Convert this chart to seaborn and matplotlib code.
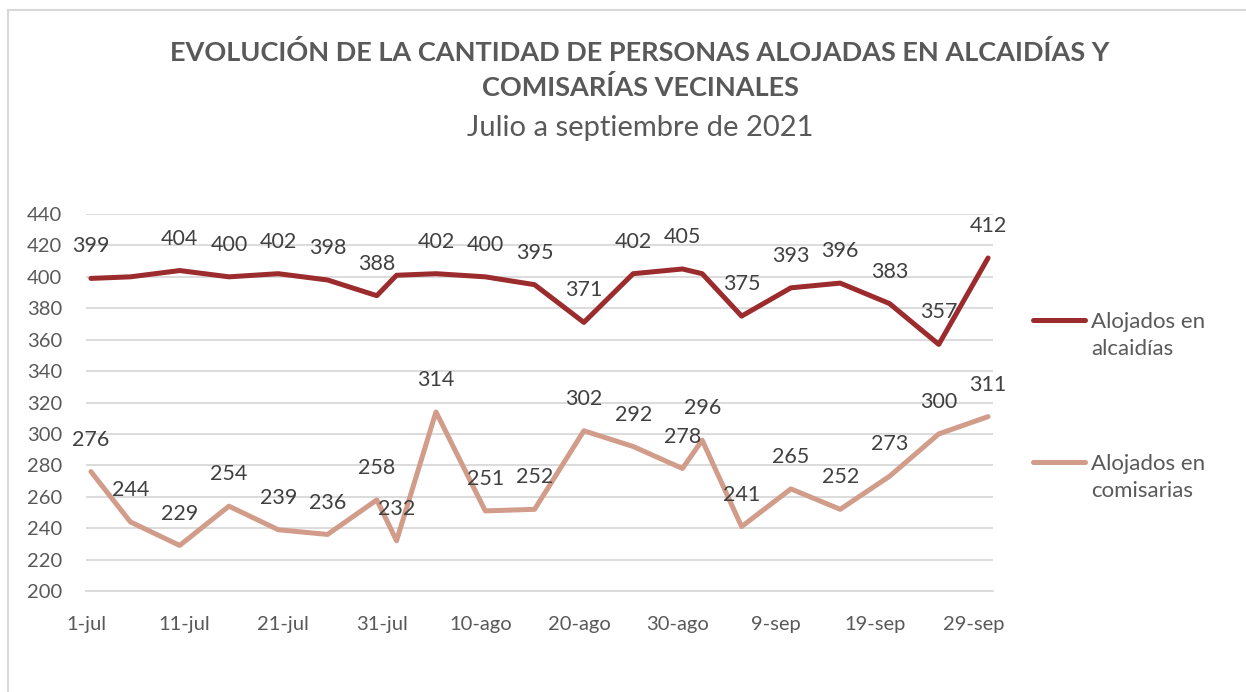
import pandas as pd
import seaborn as sns
import matplotlib.pyplot as plt
from matplotlib.patches import Rectangle

# Datos
fechas = ["2021-07-01", "2021-07-05", "2021-07-10", "2021-07-15", "2021-07-20",
          "2021-07-25", "2021-07-30", "2021-08-01", "2021-08-05", "2021-08-10",
          "2021-08-15", "2021-08-20", "2021-08-25", "2021-08-30", "2021-09-01",
          "2021-09-05", "2021-09-10", "2021-09-15", "2021-09-20", "2021-09-25",
          "2021-09-30"]
alcaidias = [399, 400, 404, 400, 402, 398, 388, 401, 402, 400, 395,
             371, 402, 405, 402, 375, 393, 396, 383, 357, 412]
comisarias = [276, 244, 229, 254, 239, 236, 258, 232, 314, 251, 252,
              302, 292, 278, 296, 241, 265, 252, 273, 300, 311]
# en el original estos puntos de alcaidías no tienen etiqueta
sin_etiqueta = ["2021-07-05", "2021-08-01", "2021-09-01"]

series = ["Alojados en\nalcaidías", "Alojados en\ncomisarias"]
colores = ["#9B2B2C", "#D19C89"]

tick_fechas = ["2021-07-01", "2021-07-11", "2021-07-21", "2021-07-31", "2021-08-10",
               "2021-08-20", "2021-08-30", "2021-09-09", "2021-09-19", "2021-09-29"]
tick_labels = ["1-jul", "11-jul", "21-jul", "31-jul", "10-ago",
               "20-ago", "30-ago", "9-sep", "19-sep", "29-sep"]

titulo = "EVOLUCIÓN DE LA CANTIDAD DE PERSONAS ALOJADAS EN ALCAIDÍAS Y\nCOMISARÍAS VECINALES"
subtitulo = "Julio a septiembre de 2021"

# Tabla larga para seaborn (puntos en el centro de cada día, como en Excel)
df = pd.DataFrame({
    "fecha": pd.to_datetime(fechas * 2) + pd.Timedelta(hours=12),
    "valor": alcaidias + comisarias,
    "serie": [series[0]] * len(fechas) + [series[1]] * len(fechas),
})

sns.set_style("white")
plt.rcParams["font.family"] = ["Lato", "DejaVu Sans"]

gris = "#595959"
grid = "#D9D9D9"

fig = plt.figure(figsize=(12.46, 6.92), dpi=100)
ax = fig.add_axes([86 / 1246, 1 - 591 / 692, (993 - 86) / 1246, (591 - 214) / 692])

sns.lineplot(data=df, x="fecha", y="valor", hue="serie", palette=colores,
             linewidth=3.6, ax=ax, solid_capstyle="round", solid_joinstyle="round")
ax.get_legend().remove()

# Etiquetas de datos
for _, row in df.iterrows():
    fecha_txt = row["fecha"].strftime("%Y-%m-%d")
    if row["serie"] == series[0] and fecha_txt in sin_etiqueta:
        continue
    ax.annotate(str(row["valor"]), (row["fecha"], row["valor"]), xytext=(0, 23),
                textcoords="offset points", ha="center", va="center",
                fontsize=15.5, color="#404040")

# Ejes
ax.set_ylim(200, 440)
ax.set_yticks(range(200, 441, 20))
ax.set_xlim(pd.Timestamp("2021-07-01"), pd.Timestamp("2021-10-01"))
ax.set_xticks(pd.to_datetime(tick_fechas))
ax.set_xticklabels(tick_labels)
ax.set_xlabel("")
ax.set_ylabel("")
ax.grid(axis="y", color=grid, linewidth=1.3)
ax.set_axisbelow(True)
for lado in ["top", "right", "left"]:
    ax.spines[lado].set_visible(False)
ax.spines["bottom"].set_color(grid)
ax.spines["bottom"].set_linewidth(1.3)
ax.tick_params(axis="x", length=6, width=1.3, color=grid, labelsize=14.5,
               labelcolor=gris, pad=12, direction="out")
ax.tick_params(axis="y", length=0, labelsize=14.5, labelcolor=gris, pad=17)

# Leyendas separadas a la derecha
lineas = ax.lines[:2]
posiciones_y = [1 - 335.5 / 692, 1 - 477.5 / 692]
for linea, nombre, y in zip(lineas, series, posiciones_y):
    leg = fig.legend([linea], [nombre], loc="center left",
                     bbox_to_anchor=(1033 / 1246, y), frameon=False,
                     fontsize=16, borderpad=0, borderaxespad=0,
                     handlelength=2.35, handletextpad=0.25, labelcolor=gris)
    for t in leg.get_texts():
        t.set_linespacing(1.4)
    for h in leg.legend_handles:
        h.set_ydata([v + 11.5 for v in h.get_ydata()])

# Títulos
fig.text(640 / 1246, 1 - 70 / 692, titulo, ha="center", va="center",
         fontsize=19.5, fontweight="bold", color=gris, linespacing=1.45)
fig.text(640 / 1246, 1 - 128 / 692, subtitulo, ha="center", va="center",
         fontsize=21, color=gris)

# Borde del área del gráfico
fig.add_artist(Rectangle((8 / 1246, -0.05), 1.1, (692 - 10) / 692 + 0.05,
                         transform=fig.transFigure, fill=False,
                         edgecolor=grid, linewidth=1.5))

fig.savefig("out.png", dpi=100)
